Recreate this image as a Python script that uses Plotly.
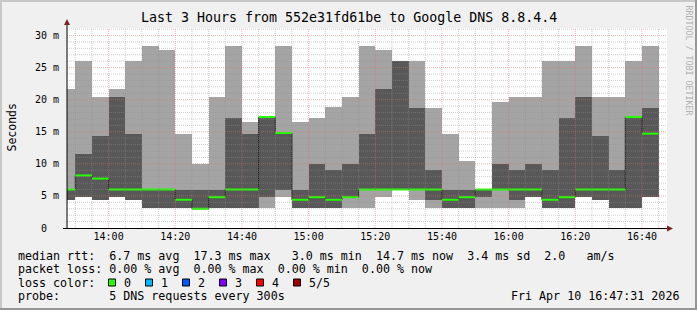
import plotly.graph_objects as go
import pandas as pd

# ---------------- data ----------------
bar_end = ["13:50","13:55","14:00","14:05","14:10","14:15","14:20","14:25","14:30","14:35",
           "14:40","14:45","14:50","14:55","15:00","15:05","15:10","15:15","15:20","15:25",
           "15:30","15:35","15:40","15:45","15:50","15:55","16:00","16:05","16:10","16:15",
           "16:20","16:25","16:30","16:35","16:40","16:45"]
# sorted ping RTTs (ms) per 5-minute step: p1 (min) .. p5 (max), p3 = median
p1 = [4.4,4.9,4.4,4.9,4.4,3.1,3.1,3.1,3.0,3.1,3.1,3.1,3.1,4.8,3.1,3.1,3.1,3.1,
      3.1,4.8,6.0,4.4,3.1,3.1,3.1,3.1,3.1,3.1,4.8,3.1,3.1,4.8,4.4,3.1,3.1,4.8]
p2 = [4.4,4.9,4.4,4.9,4.4,3.1,3.1,3.1,3.0,3.1,3.1,3.1,4.8,6.0,3.1,3.1,3.1,4.8,
      6.0,6.0,6.0,6.0,4.3,3.1,3.1,4.8,6.0,4.4,4.8,3.1,3.1,4.8,4.4,3.1,3.1,4.8]
p3 = [6.0,8.2,7.7,6.0,6.0,6.0,6.0,4.4,3.0,4.8,6.0,6.0,17.3,14.8,4.4,4.8,4.4,4.8,
      6.0,6.0,6.0,6.0,6.0,4.4,4.8,6.0,6.0,6.0,6.0,4.4,4.8,6.0,6.0,6.0,17.3,14.7]
p4 = [6.0,11.6,14.3,20.4,14.7,6.0,6.0,6.0,6.0,6.0,17.2,14.7,17.3,14.8,6.0,10.0,9.1,10.0,
      14.7,21.6,26.0,18.7,9.1,6.0,6.0,6.0,10.0,9.1,10.0,9.1,17.2,20.4,14.3,9.1,17.3,18.7]
p5 = [21.7,26.0,20.4,21.7,26.0,28.3,27.7,14.7,10.0,20.4,28.3,16.5,17.3,28.3,16.5,17.2,18.8,20.4,
      28.3,27.7,26.0,26.0,18.7,14.7,10.4,6.0,19.6,20.4,20.4,26.0,26.0,28.3,20.4,20.4,26.0,28.3]

y_ticks = [0, 5, 10, 15, 20, 25, 30]
y_ticktext = ["0\u00a0\u00a0", "5 m", "10 m", "15 m", "20 m", "25 m", "30 m"]
x_ticks = ["14:00", "14:20", "14:40", "15:00", "15:20", "15:40", "16:00", "16:20", "16:40"]

title = "Last 3 Hours from 552e31fd61be to Google DNS 8.8.4.4"
legend_rows = [
    "median rtt:  6.7 ms avg  17.3 ms max   3.0 ms min  14.7 ms now  3.4 ms sd  2.0   am/s",
    "packet loss: 0.00 % avg  0.00 % max  0.00 % min  0.00 % now",
    "loss color:",
    "probe:       5 DNS requests every 300s",
]
loss_labels = ["0", "1", "2", "3", "4", "5/5"]
loss_colors = ["#26ff00", "#00b8ff", "#0059ff", "#7e00ff", "#ff0000", "#a10000"]
stamp = "Fri Apr 10 16:47:31 2026"

# ---------------- geometry ----------------
DAY = "2026-04-10 "
t_end = pd.to_datetime([DAY + t for t in bar_end])
step = pd.Timedelta(minutes=5)
t_start = t_end - step
t_mid = t_start + step / 2
x0 = pd.Timestamp(DAY + "13:47:31")
x1 = pd.Timestamp(DAY + "16:47:31")
YMAX = 31.17
W_MS = 300000

L, R, T, B = 67, 30, 28, 82
PW, PH = 697 - L - R, 310 - T - B

def pxx(px):
    return (px - L) / PW

def pxy(py):
    return (310 - B - py) / PH

MONO = "DejaVu Sans Mono"
LIGHT = "#a4a4a4"
DARK = "#585858"

fig = go.Figure()
# outer smoke (min..max)
fig.add_trace(go.Bar(x=t_mid, y=[b - a for a, b in zip(p1, p5)], base=p1,
                     width=W_MS, marker=dict(color=LIGHT, line=dict(width=0)),
                     hoverinfo="skip", showlegend=False))
# inner smoke (2nd..4th)
fig.add_trace(go.Bar(x=t_mid, y=[b - a for a, b in zip(p2, p4)], base=p2,
                     width=W_MS, marker=dict(color=DARK, line=dict(width=0)),
                     hoverinfo="skip", showlegend=False))

# median step line (dark connectors)
sx, sy = [], []
for a, b, m in zip(t_start, t_end, p3):
    sx += [a, b]
    sy += [m, m]
fig.add_trace(go.Scatter(x=sx, y=sy, mode="lines", line=dict(color="#202020", width=1),
                         hoverinfo="skip", showlegend=False))
# median green segments
gx, gy = [], []
for a, b, m in zip(t_start, t_end, p3):
    gx += [a, b, None]
    gy += [m, m, None]
fig.add_trace(go.Scatter(x=gx, y=gy, mode="lines", line=dict(color=loss_colors[0], width=2),
                         hoverinfo="skip", showlegend=False, connectgaps=False))

shapes = []
GRID = "rgba(143,143,143,0.45)"
MGRID = "rgba(226,112,112,0.5)"
# horizontal grid
for v in range(1, 32):
    if v > YMAX:
        break
    col = MGRID if v % 5 == 0 else GRID
    shapes.append(dict(type="line", xref="paper", yref="y", x0=0, x1=1, y0=v, y1=v,
                       line=dict(color=col, width=1, dash="1px,1px"), layer="above"))
# vertical grid
major = set(pd.to_datetime([DAY + t for t in x_ticks]))
g = pd.Timestamp(DAY + "13:50")
while g < x1:
    col = MGRID if g in major else GRID
    shapes.append(dict(type="line", xref="x", yref="paper", x0=g, x1=g, y0=0, y1=1,
                       line=dict(color=col, width=1, dash="1px,1px"), layer="above"))
    g += step

# axes lines with arrows
AX = "#000000"
shapes.append(dict(type="line", xref="paper", yref="paper", x0=pxx(L), x1=pxx(L),
                   y0=pxy(228.5), y1=pxy(22), line=dict(color=AX, width=1), layer="above"))
shapes.append(dict(type="line", xref="paper", yref="paper", x0=pxx(63), x1=pxx(672),
                   y0=pxy(228.5), y1=pxy(228.5), line=dict(color=AX, width=1), layer="above"))
ARROW = "#7f1f1f"
shapes.append(dict(type="path", xref="paper", yref="paper",
                   path="M {} {} L {} {} L {} {} Z".format(pxx(64), pxy(25), pxx(70), pxy(25), pxx(67), pxy(19)),
                   fillcolor=ARROW, line=dict(width=0), layer="above"))
shapes.append(dict(type="path", xref="paper", yref="paper",
                   path="M {} {} L {} {} L {} {} Z".format(pxx(667), pxy(225.5), pxx(667), pxy(231.5), pxx(673), pxy(228.5)),
                   fillcolor=ARROW, line=dict(width=0), layer="above"))

# border (shade)
shapes.append(dict(type="line", xref="paper", yref="paper", x0=pxx(0), x1=pxx(697), y0=pxy(1), y1=pxy(1),
                   line=dict(color="#c8c8c8", width=2), layer="above"))
shapes.append(dict(type="line", xref="paper", yref="paper", x0=pxx(1), x1=pxx(1), y0=pxy(0), y1=pxy(310),
                   line=dict(color="#c8c8c8", width=2), layer="above"))
shapes.append(dict(type="line", xref="paper", yref="paper", x0=pxx(0), x1=pxx(697), y0=pxy(309), y1=pxy(309),
                   line=dict(color="#969696", width=2), layer="above"))
shapes.append(dict(type="line", xref="paper", yref="paper", x0=pxx(696), x1=pxx(696), y0=pxy(0), y1=pxy(310),
                   line=dict(color="#969696", width=2), layer="above"))

# legend squares
sq_x = [108.5, 145.5, 182.5, 219.5, 256.5, 293.5]
lab_x = [121.5, 158.5, 195.5, 232.5, 269.5, 306.5]
for xs, col in zip(sq_x, loss_colors):
    shapes.append(dict(type="rect", xref="paper", yref="paper", x0=pxx(xs), x1=pxx(xs + 7),
                       y0=pxy(286), y1=pxy(279), fillcolor=col,
                       line=dict(color="#000000", width=1), layer="above"))

ann = []
ann.append(dict(text=title, x=pxx(348.5), y=pxy(18), xref="paper", yref="paper",
                xanchor="center", yanchor="middle", showarrow=False,
                font=dict(family=MONO, size=13.3, color="#000")))
ann.append(dict(text="Seconds", x=pxx(11), y=pxy(127.5), xref="paper", yref="paper",
                xanchor="center", yanchor="middle", showarrow=False, textangle=-90,
                font=dict(family=MONO, size=11.5, color="#000")))
ann.append(dict(text="RRDTOOL / TOBI OETIKER", x=pxx(688.5), y=pxy(60), xref="paper", yref="paper",
                xanchor="center", yanchor="middle", showarrow=False, textangle=90,
                font=dict(family=MONO, size=8.3, color="#b0b0b0")))
row_y = [255.5, 268.8, 283, 296.3]
for txt, ry in zip(legend_rows, row_y):
    ann.append(dict(text=txt.replace(" ", "\u00a0"), x=pxx(16), y=pxy(ry), xref="paper", yref="paper",
                    xanchor="left", yanchor="middle", showarrow=False,
                    font=dict(family=MONO, size=11.67, color="#000")))
for lx, lab in zip(lab_x, loss_labels):
    ann.append(dict(text=lab, x=pxx(lx), y=pxy(283), xref="paper", yref="paper",
                    xanchor="left", yanchor="middle", showarrow=False,
                    font=dict(family=MONO, size=11.67, color="#000")))
ann.append(dict(text=stamp.replace(" ", "\u00a0"), x=pxx(681), y=pxy(296.3), xref="paper", yref="paper",
                xanchor="right", yanchor="middle", showarrow=False,
                font=dict(family=MONO, size=11.67, color="#000")))

fig.update_layout(
    width=697, height=310,
    margin=dict(l=L, r=R, t=T, b=B, pad=0),
    paper_bgcolor="#f0f0f0", plot_bgcolor="#ffffff",
    barmode="overlay", bargap=0,
    shapes=shapes, annotations=ann,
    xaxis=dict(type="date", range=[x0, x1], showgrid=False, zeroline=False, showline=False,
               tickvals=pd.to_datetime([DAY + t for t in x_ticks]), ticktext=x_ticks,
               ticks="", ticklabelstandoff=1,
               tickfont=dict(family=MONO, size=10, color="#000"), fixedrange=True),
    yaxis=dict(range=[0, YMAX], showgrid=False, zeroline=False, showline=False,
               tickvals=y_ticks, ticktext=y_ticktext, ticks="", ticklabelstandoff=7,
               tickfont=dict(family=MONO, size=10, color="#000"), fixedrange=True),
    showlegend=False,
)

fig.write_html("out.html")
